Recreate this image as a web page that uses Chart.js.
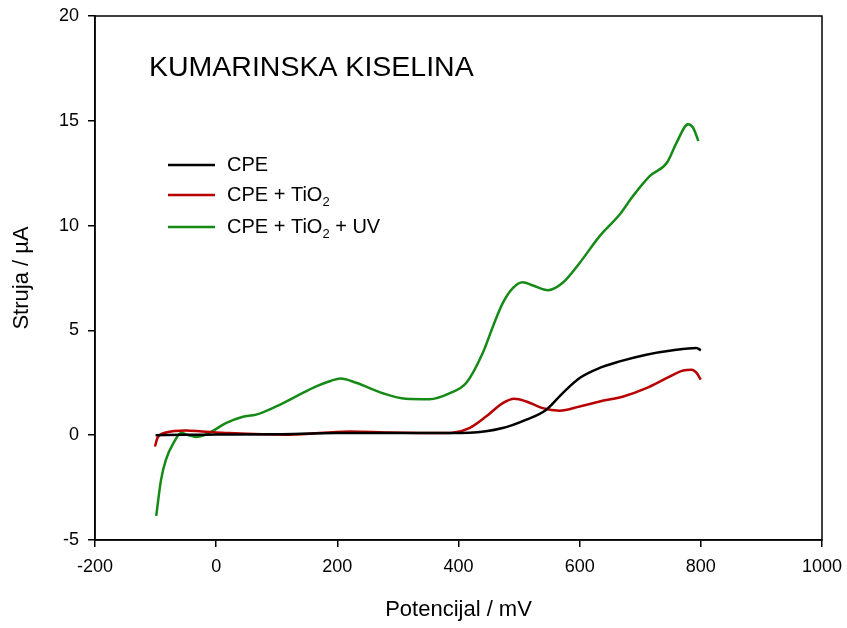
<!DOCTYPE html>
<html>
<head>
<meta charset="utf-8">
<script src="https://cdn.jsdelivr.net/npm/chart.js@4/dist/chart.umd.min.js"></script>
<style>
  html, body { margin: 0; padding: 0; background: #fff; }
  #wrap { width: 847px; height: 628px; }
</style>
</head>
<body>
<div id="wrap"><canvas id="myChart" width="847" height="628"></canvas></div>
<script>
// potential (mV) and current (uA)
var cpeX = [-100, -50, 0, 100, 200, 300, 336, 418, 473, 512, 545, 572, 600, 633, 666, 710, 754, 793, 800];
var cpeY = [0.0, 0.02, 0.03, 0.05, 0.1, 0.1, 0.1, 0.12, 0.34, 0.74, 1.22, 2.01, 2.73, 3.21, 3.52, 3.84, 4.05, 4.16, 4.05];

var tioX = [-101, -97, -83, -50, -23, 21, 120, 220, 286, 369, 390, 418, 446, 473, 492, 512, 539, 567, 600, 633, 672, 710, 744, 771, 785, 793, 800];
var tioY = [-0.54, -0.14, 0.13, 0.23, 0.18, 0.1, 0.02, 0.18, 0.13, 0.1, 0.12, 0.34, 0.9, 1.53, 1.74, 1.61, 1.29, 1.17, 1.37, 1.61, 1.85, 2.25, 2.73, 3.09, 3.12, 2.97, 2.65];

var uvX = [-99, -91, -83, -69, -58, -45, -34, -20, -7, 16, 43, 66, 99, 132, 165, 190, 205, 231, 275, 313, 352, 385, 413, 440, 457, 473, 490, 506, 523, 548, 572, 600, 633, 666, 688, 716, 744, 760, 779, 787, 796];
var uvY = [-3.85, -2.13, -1.18, -0.3, 0.1, 0.0, -0.08, 0.0, 0.18, 0.58, 0.87, 0.98, 1.37, 1.85, 2.33, 2.6, 2.7, 2.5, 2.0, 1.74, 1.72, 2.0, 2.5, 3.92, 5.2, 6.3, 7.03, 7.3, 7.14, 6.92, 7.27, 8.22, 9.5, 10.53, 11.41, 12.37, 13.0, 13.96, 14.84, 14.68, 14.04];

var xTicks = [-200, 0, 200, 400, 600, 800, 1000];
var yTicks = [-5, 0, 5, 10, 15, 20];

var seriesNames = ["CPE", "CPE + TiO2", "CPE + TiO2 + UV"];
var seriesColors = ["#000000", "#b80000", "#168a16"];

function pts(xs, ys) {
    return xs.map(function (x, i) { return { x: x, y: ys[i] }; });
}

Chart.defaults.font.family = "'Liberation Sans', Arial, sans-serif";
Chart.defaults.color = "#000";

// frame, title and the legend with subscripts
var extras = {
    id: "extras",
    afterDraw: function (chart) {
        var ctx = chart.ctx;
        var a = chart.chartArea;
        ctx.save();
        ctx.strokeStyle = "#000";
        ctx.lineWidth = 1.5;
        ctx.strokeRect(a.left, a.top, a.right - a.left, a.bottom - a.top);

        ctx.fillStyle = "#000";
        ctx.textBaseline = "middle";
        ctx.textAlign = "left";
        ctx.font = "28.5px 'Liberation Sans', Arial";
        ctx.fillText("KUMARINSKA KISELINA", 149, 68);

        var rows = [165, 195, 227];
        for (var i = 0; i < 3; i++) {
            var y = rows[i];
            ctx.strokeStyle = seriesColors[i];
            ctx.lineWidth = 2.5;
            ctx.beginPath();
            ctx.moveTo(168, y);
            ctx.lineTo(215, y);
            ctx.stroke();

            var x = 227;
            var parts = seriesNames[i].split("TiO2");
            ctx.font = "20px 'Liberation Sans', Arial";
            ctx.fillText(parts[0], x, y);
            if (parts.length > 1) {
                x += ctx.measureText(parts[0]).width;
                ctx.fillText("TiO", x, y);
                x += ctx.measureText("TiO").width;
                ctx.font = "13px 'Liberation Sans', Arial";
                ctx.fillText("2", x, y + 7);
                x += ctx.measureText("2").width;
                ctx.font = "20px 'Liberation Sans', Arial";
                ctx.fillText(parts[1], x, y);
            }
        }
        ctx.restore();
    }
};

new Chart("myChart", {
    type: "scatter",
    data: {
        datasets: [
            { label: seriesNames[0], data: pts(cpeX, cpeY), borderColor: seriesColors[0] },
            { label: seriesNames[1], data: pts(tioX, tioY), borderColor: seriesColors[1] },
            { label: seriesNames[2], data: pts(uvX, uvY), borderColor: seriesColors[2] }
        ]
    },
    options: {
        responsive: false,
        animation: false,
        showLine: true,
        elements: {
            point: { radius: 0 },
            line: { borderWidth: 2.5, tension: 0.35, cubicInterpolationMode: "monotone" }
        },
        layout: { padding: { top: 16, right: 25, left: 0, bottom: 0 } },
        plugins: { legend: { display: false }, tooltip: { enabled: false } },
        scales: {
            x: {
                type: "linear",
                min: -200,
                max: 1000,
                afterBuildTicks: function (s) { s.ticks = xTicks.map(function (v) { return { value: v }; }); },
                afterFit: function (s) { s.height = 88; s.paddingLeft = 0; s.paddingRight = 0; },
                grid: { drawOnChartArea: false, drawTicks: true, tickLength: 7, color: "#000", lineWidth: 1.5 },
                border: { display: true, color: "#000", width: 1.5 },
                ticks: { font: { size: 18 }, padding: 9, maxRotation: 0, callback: function (v) { return String(v); } },
                title: { display: true, text: "Potencijal / mV", font: { size: 22 }, padding: { top: 0, bottom: 5 } }
            },
            y: {
                type: "linear",
                min: -5,
                max: 20,
                afterBuildTicks: function (s) { s.ticks = yTicks.map(function (v) { return { value: v }; }); },
                afterFit: function (s) { s.width = 95; s.paddingTop = 0; s.paddingBottom = 0; },
                grid: { drawOnChartArea: false, drawTicks: true, tickLength: 7, color: "#000", lineWidth: 1.5 },
                border: { display: true, color: "#000", width: 1.5 },
                ticks: { font: { size: 18 }, padding: 9, callback: function (v) { return String(v); } },
                title: { display: true, text: "Struja / µA", font: { size: 22 }, padding: { top: 9, bottom: 0 } }
            }
        }
    },
    plugins: [extras]
});
</script>
</body>
</html>
